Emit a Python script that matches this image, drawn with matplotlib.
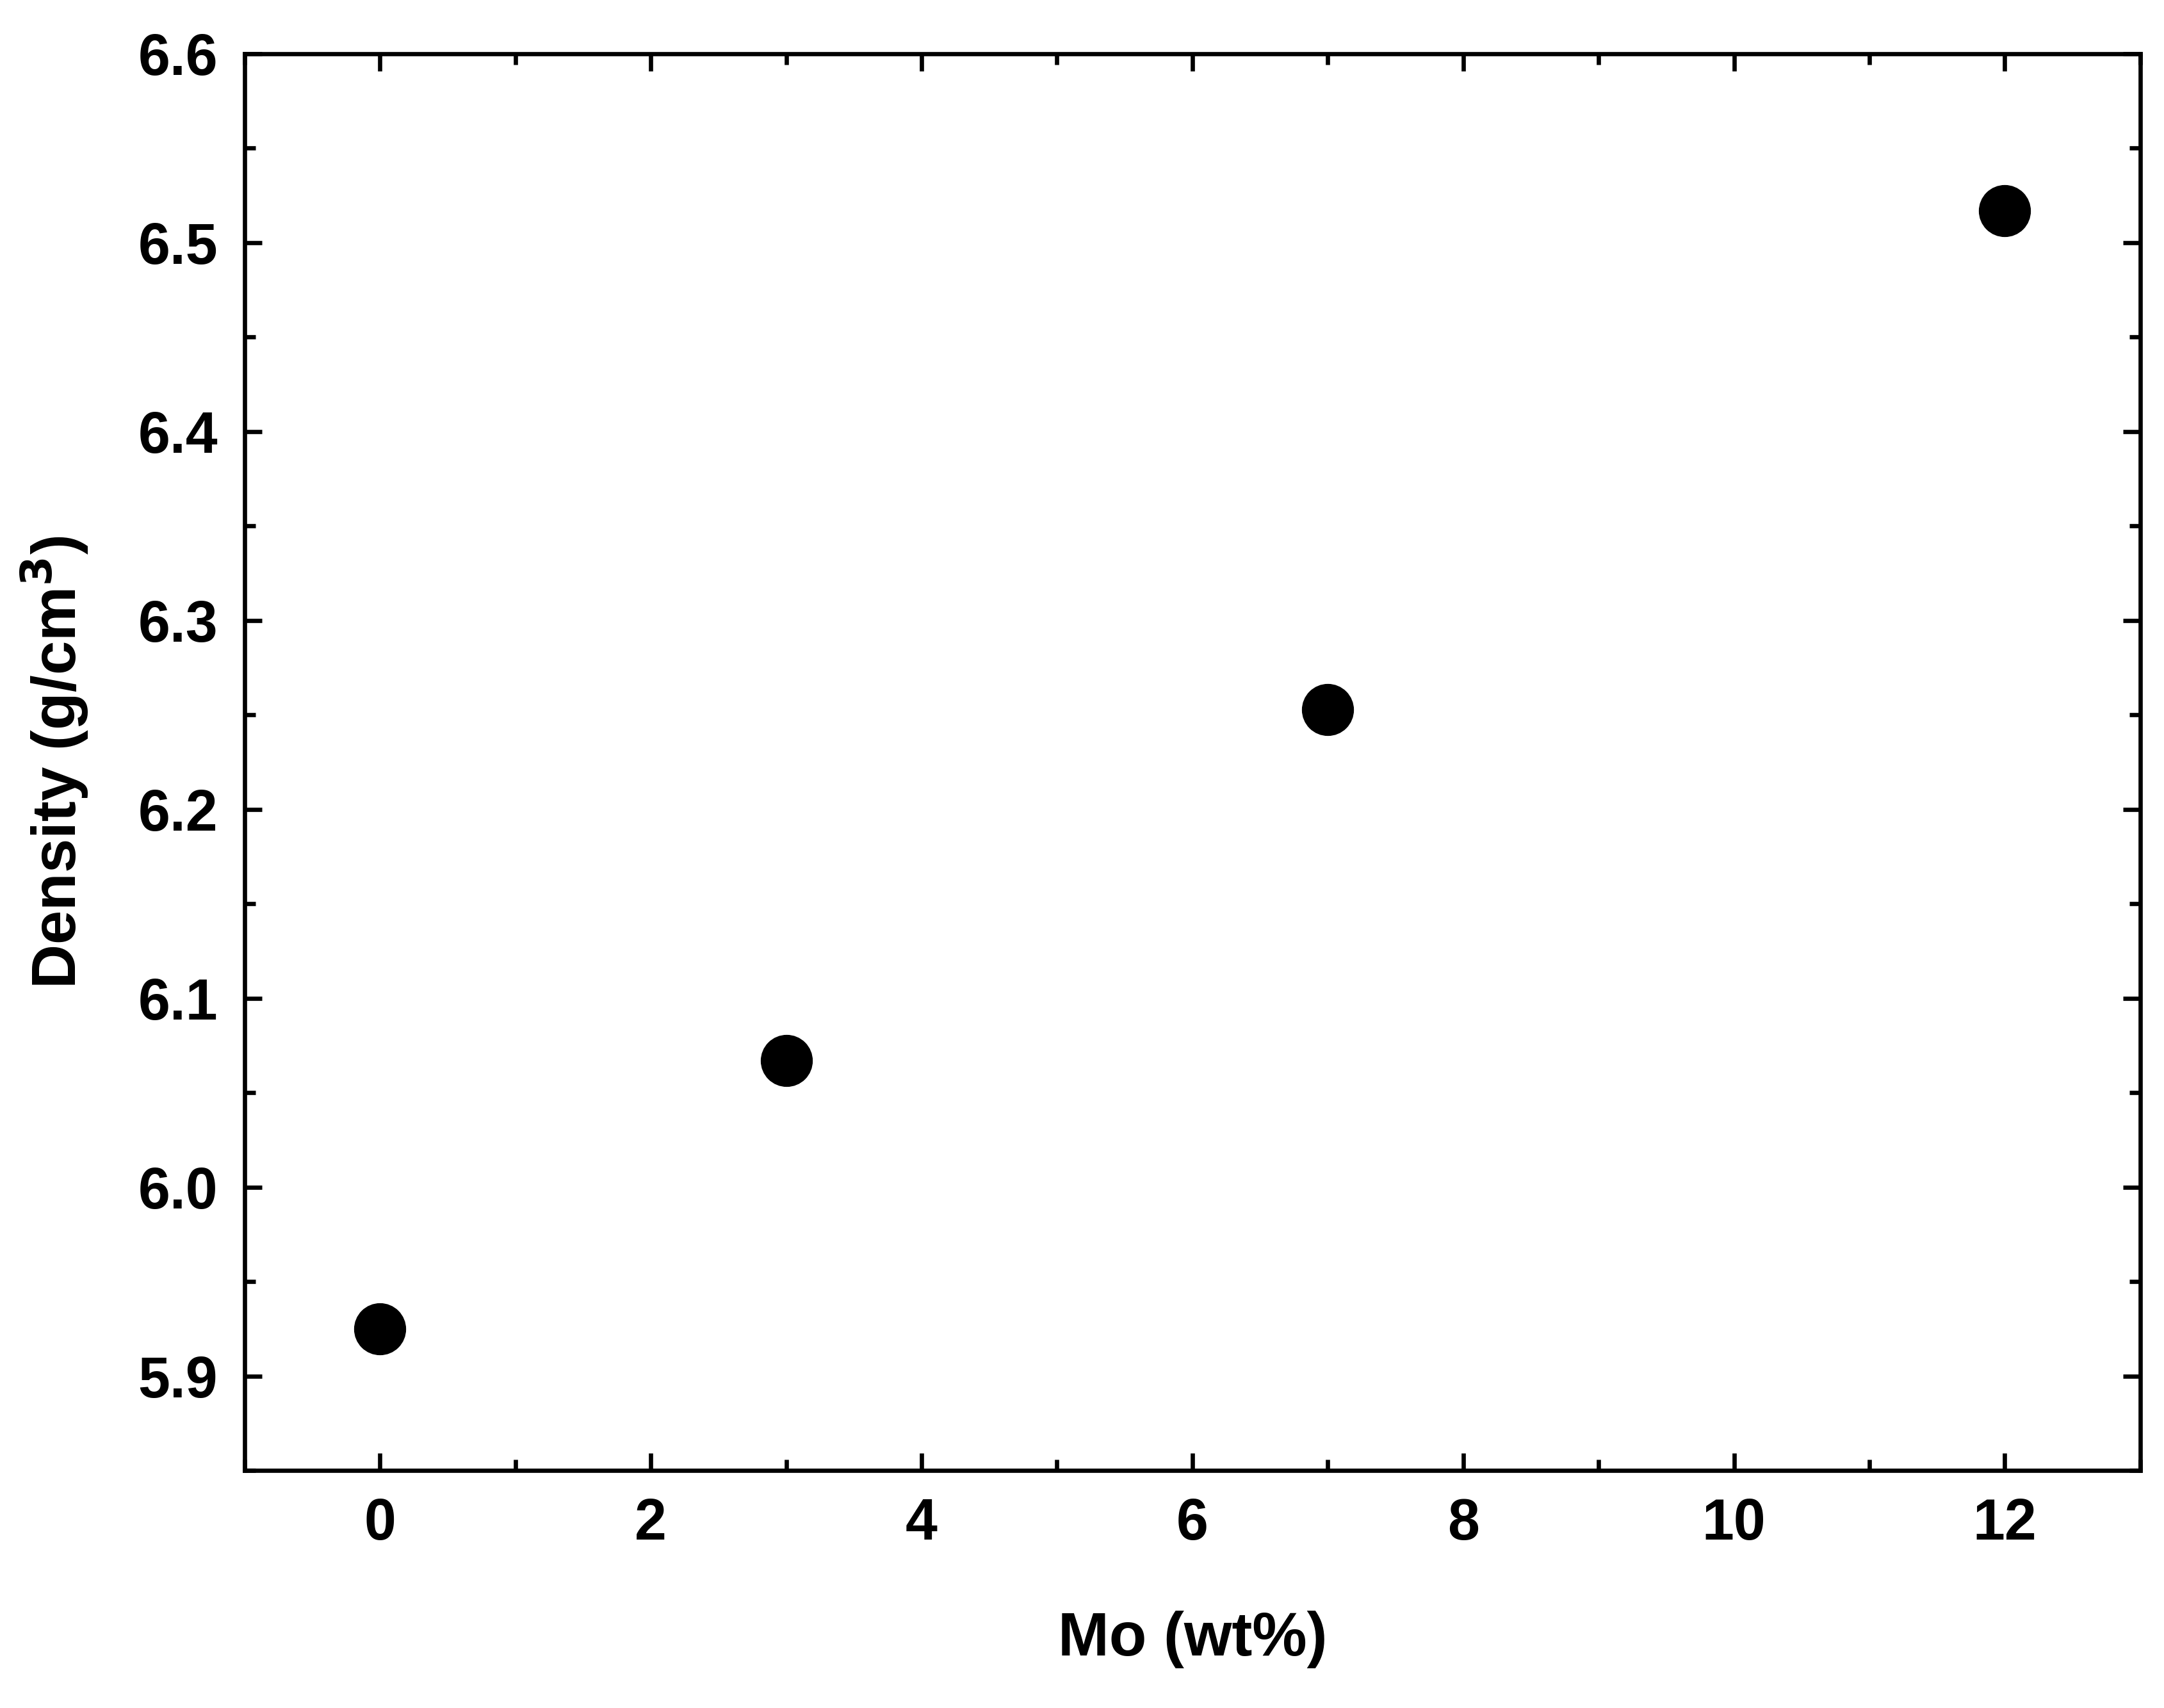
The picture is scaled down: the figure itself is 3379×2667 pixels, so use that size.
import matplotlib
matplotlib.use("Agg")
import matplotlib.pyplot as plt
from matplotlib.ticker import MultipleLocator

mo = [0, 3, 7, 12]
density = [5.925, 6.067, 6.253, 6.517]

plt.rcParams['font.family'] = ['Liberation Sans', 'DejaVu Sans']
plt.rcParams['font.weight'] = 'bold'

fig = plt.figure(figsize=(3379/300, 2667/300), dpi=300)
ax = fig.add_axes([0.113, 0.139, 0.876, 0.8295])
ax.plot(mo, density, 'o', color='black', markersize=18.5, linestyle='none')
ax.set_xlim(-1, 13)
ax.set_ylim(5.85, 6.6)
ax.xaxis.set_major_locator(MultipleLocator(2))
ax.xaxis.set_minor_locator(MultipleLocator(1))
ax.yaxis.set_major_locator(MultipleLocator(0.1))
ax.yaxis.set_minor_locator(MultipleLocator(0.05))
ax.yaxis.set_major_formatter(matplotlib.ticker.FormatStrFormatter('%.1f'))
for s in ax.spines.values():
    s.set_linewidth(1.6)
ax.tick_params(which='both', direction='in', top=True, right=True, width=1.6, labelsize=21.5, pad=10)
ax.tick_params(which='major', length=6.5)
ax.tick_params(which='minor', length=4)
for lab in ax.get_xticklabels() + ax.get_yticklabels():
    lab.set_fontweight('bold')
ax.set_xlabel('Mo (wt%)', fontsize=23, fontweight='bold', labelpad=22)
ax.set_ylabel('Density (g/cm$^\\mathbf{3}$)', fontsize=23, fontweight='bold', labelpad=18)
fig.savefig('out.png', dpi=300)
